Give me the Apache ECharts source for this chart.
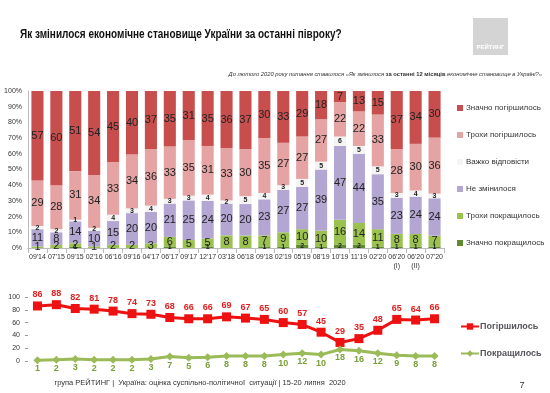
<!DOCTYPE html>
<html><head><meta charset="utf-8">
<script src="https://cdn.jsdelivr.net/npm/echarts@6/dist/echarts.min.js"></script>
<style>html,body{margin:0;padding:0;background:#fff}#c{width:550px;height:393px}</style>
</head><body><div id="c"></div>
<script>
const categories = ["09'14","07'15","09'15","02'16","06'16","09'16","04'17","06'17","09'17","12'17","03'18","06'18","09'18","02'19","05'19","08'19","10'19","11'19","02'20","06'20\n(I)","06'20\n(II)","07'20"];
const muchBetter   = [0,0,1,0,0,0,0,1,0,1,0,0,1,1,2,1,2,2,1,1,1,1];
const slightBetter = [1,2,2,1,2,2,3,6,5,5,8,8,7,9,10,10,16,14,11,8,8,7];
const unchanged    = [11,8,14,10,15,20,20,21,25,24,20,20,23,27,27,39,47,44,35,23,24,24];
const hardToSay    = [2,2,1,2,4,3,4,3,3,4,2,5,4,3,5,5,6,5,5,3,4,3];
const slightWorse  = [29,28,31,34,33,34,36,33,35,31,33,30,35,27,27,27,22,22,33,28,30,36];
const muchWorse    = [57,60,51,54,45,40,37,35,31,35,36,37,30,33,29,18,7,13,15,37,34,30];
const worsened = [86,88,82,81,78,74,73,68,66,66,69,67,65,60,57,45,29,35,48,65,64,66];
const improved = [1,2,3,2,2,2,3,7,5,6,8,8,8,10,12,10,18,16,12,9,8,8];
const yTicks = ["0%","10%","20%","30%","40%","50%","60%","70%","80%","90%","100%"];

const names = ["Значно покращилось","Трохи покращилось","Не змінилося","Важко відповісти","Трохи погіршилось","Значно погіршилось"];
const arrs = [muchBetter, slightBetter, unchanged, hardToSay, slightWorse, muchWorse];
const colors = ["#5f8a2e","#9bc24f","#b3a6d2","#f4f4f4","#e6a3a3","#c84e4e"];
const small = [true,false,false,true,false,false];
const sums = categories.map((c,i)=>arrs.reduce((s,a)=>s+a[i],0));

const font = "Liberation Sans, Arial, sans-serif";
const chart = echarts.init(document.getElementById('c'));
const barSeries = arrs.map((a,k)=>({
  name:names[k], type:'bar', stack:'s', xAxisIndex:0, yAxisIndex:0, barWidth:'64%',
  itemStyle:{color:colors[k]},
  data:a.map((v,i)=>({value:v*100/sums[i], raw:v})),
  label:{show:true, position:'inside', color:'#222', fontFamily:font,
    fontSize: small[k]?7:11, fontWeight: small[k]?'bold':'normal',
    formatter:p=>p.data.raw>0?String(p.data.raw):''},
  emphasis:{disabled:true}
}));

chart.setOption({
  animation:false,
  textStyle:{fontFamily:font},
  graphic:[
    {type:'text', x:20, y:35, scaleX:0.8, scaleY:1,
     style:{x:0,y:0,text:'Як змінилося економічне становище України за останні півроку?',fill:'#111',font:'bold 12.5px '+font,align:'left',verticalAlign:'middle'}},
    {type:'rect', shape:{x:473,y:18,width:35,height:37}, style:{fill:'#d4d4d4'}},
    {type:'text', style:{x:490.5,y:47,text:'РЕЙТИНГ',fill:'#fff',font:'bold 6px '+font,align:'center',verticalAlign:'middle'}},
    {type:'text', style:{x:542,y:74,align:'right',verticalAlign:'middle',
      rich:{a:{fontSize:5.8,fontStyle:'italic',fill:'#333',fontFamily:font},b:{fontSize:5.8,fontWeight:'bold',fill:'#333',fontFamily:font}},
      text:'{a|До лютого 2020 року питання ставилося «Як змінилося }{b|за останні 12 місяців}{a| економічне становище в Україні?»}'}},
    {type:'text', style:{x:200,y:383,align:'center',verticalAlign:'middle',text:'група РЕЙТИНГ |  Україна: оцінка суспільно-політичної  ситуації | 15-20 липня  2020',fill:'#333',font:'7.5px '+font}},
    {type:'text', style:{x:522,y:386,align:'center',verticalAlign:'middle',text:'7',fill:'#333',font:'9px '+font}}
  ],
  legend:[
    {data:names.slice().reverse(), orient:'vertical', left:452, top:99, itemWidth:6, itemHeight:6, itemGap:19,
     icon:'rect', textStyle:{fontSize:8, color:'#333', fontFamily:font, padding:[0,0,0,-2]}, selectedMode:false},
    {data:['Погіршилось','Покращилось'], orient:'vertical', left:455, top:317, itemWidth:18, itemHeight:8, itemGap:18,
     selectedMode:false, textStyle:{fontSize:9, fontWeight:'bold', fontFamily:font, padding:[0,0,0,-4]}}
  ],
  grid:[
    {left:28, width:416, top:91, height:157},
    {left:28, width:416, top:297, height:64}
  ],
  xAxis:[
    {type:'category', data:categories, gridIndex:0,
     axisLine:{lineStyle:{color:'#bbb'}}, axisTick:{show:true, alignWithLabel:false, lineStyle:{color:'#bbb'}},
     axisLabel:{fontSize:7, color:'#333', interval:0, margin:5, lineHeight:9}},
    {type:'category', data:categories, gridIndex:1, show:false}
  ],
  yAxis:[
    {type:'value', gridIndex:0, min:0, max:100, interval:10,
     axisLine:{show:true, lineStyle:{color:'#bbb'}}, axisTick:{show:false}, splitLine:{show:false},
     axisLabel:{fontSize:7, color:'#333', margin:6, formatter:v=>yTicks[v/10]}},
    {type:'value', gridIndex:1, min:0, max:100, interval:20,
     axisLine:{show:false}, axisTick:{show:true, length:3, lineStyle:{color:'#999'}}, splitLine:{show:false},
     axisLabel:{fontSize:7, color:'#333', margin:8}}
  ],
  series: barSeries.concat([
    {name:'Погіршилось', type:'line', xAxisIndex:1, yAxisIndex:1, data:worsened,
     symbol:'rect', symbolSize:9, lineStyle:{color:'#ee1111', width:3}, itemStyle:{color:'#ee1111'},
     label:{show:true, position:'top', distance:2, color:'#e02020', fontSize:9, fontWeight:'bold', fontFamily:font},
     emphasis:{disabled:true}},
    {name:'Покращилось', type:'line', xAxisIndex:1, yAxisIndex:1, data:improved,
     symbol:'diamond', symbolSize:8, lineStyle:{color:'#9bbb59', width:3}, itemStyle:{color:'#9bbb59'},
     label:{show:true, position:'bottom', distance:0, color:'#7aa03a', fontSize:9, fontWeight:'bold', fontFamily:font},
     emphasis:{disabled:true}}
  ])
});
</script></body></html>
